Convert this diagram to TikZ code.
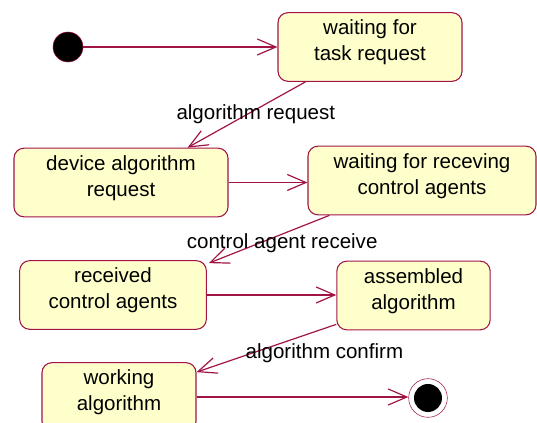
\documentclass[tikz,border=0pt]{standalone}
\usepackage{xcolor}
\usepackage{fontspec}
\setmainfont{Liberation Sans}
\usepackage{tikz}
\usetikzlibrary{arrows.meta, positioning, calc}
\definecolor{umlred}{RGB}{160,20,70}
\definecolor{umlfill}{RGB}{255,255,204}
\tikzstyle{arrow} = [line width=0.9pt, umlred, -{Straight Barb[length=14pt,width=12pt]}]

\begin{document}
\begin{tikzpicture}[
    x=0.75pt, y=-0.75pt,
    font=\fontsize{15.4}{19.5}\selectfont,
    state/.style={rectangle, rounded corners=7.5pt, draw=umlred, line width=0.8pt, fill=umlfill, align=center, inner sep=0pt,
        text height=30.7pt, text depth=10pt, minimum height=51.5pt},
    initial/.style={circle, draw=umlred, fill=black, minimum size=22.5pt, inner sep=0pt},
    final/.style={circle, draw=umlred, fill=white, minimum size=29pt, inner sep=0pt,
        path picture={\fill[black] (path picture bounding box.center) circle (10.5pt);}},
    lbl/.style={inner sep=0pt, text=black}
]
    \useasboundingbox (0,0) rectangle (537,423);

    \node[initial] (start) at (68,47) {};
    \node[state, minimum width=138pt] (waittask) at (370,47) {waiting for\\task request};
    \node[state, minimum width=160.5pt] (devreq) at (121,182.5) {device algorithm\\request};
    \node[state, minimum width=171pt] (waitagents) at (422,180.5) {waiting for receving\\control agents};
    \node[state, minimum width=140pt] (received) at (113,295) {received\\control agents};
    \node[state, minimum width=115pt] (assembled) at (413.5,295.5) {assembled\\algorithm};
    \node[state, minimum width=115.5pt] (working) at (119,397) {working\\algorithm};
    \node[final] (stop) at (428,398) {};

    \draw[arrow] (start) -- (waittask);
    \draw[arrow] ($(waittask.south west)+(28,0)$) -- ($(devreq.north east)+(-41,0)$)
        node[lbl, midway, xshift=7pt, yshift=0.5pt] {algorithm request};
    \draw[arrow] (devreq.east) -- (devreq.east -| waitagents.west);
    \draw[arrow] ($(waitagents.south west)+(22,0)$) -- ($(received.north east)+(2,3)$)
        node[lbl, midway, xshift=9.75pt, yshift=-3pt] {control agent receive};
    \draw[arrow] (received.east) -- (received.east -| assembled.west);
    \draw[arrow] ($(assembled.south west)+(0,-6)$) -- ($(working.north east)+(0,10)$)
        node[lbl, midway, xshift=43.5pt, yshift=-3.75pt] {algorithm confirm};
    \draw[arrow] (working.east) -- (working.east -| stop.west);
\end{tikzpicture}
\end{document}
